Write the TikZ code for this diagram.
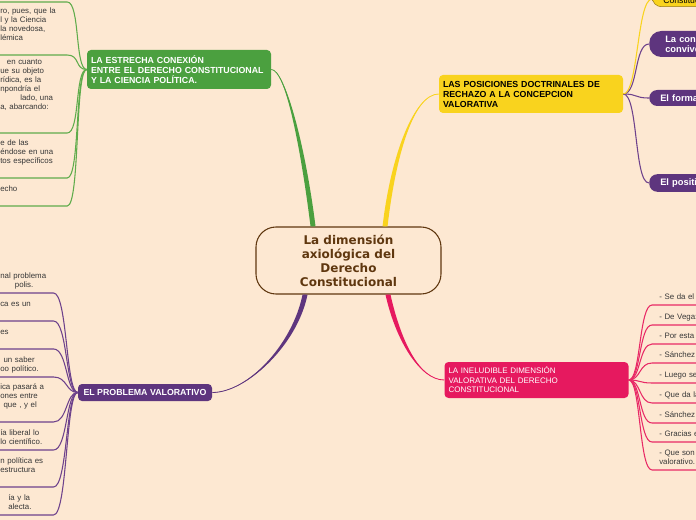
\documentclass[tikz,border=0pt]{standalone}
\usepackage{fontspec}
\usetikzlibrary{calc}
\newfontfamily\arialfont{Liberation Sans}
\newfontfamily\verdanafont{DejaVu Sans}
\definecolor{MapPeach}{RGB}{253,232,210}
\definecolor{MapBrown}{RGB}{95,55,15}
\definecolor{MapGreen}{RGB}{75,160,63}
\definecolor{MapGreenLine}{RGB}{95,172,75}
\definecolor{MapYellow}{RGB}{249,211,30}
\definecolor{MapOlive}{RGB}{150,120,20}
\definecolor{MapPurple}{RGB}{94,53,126}
\definecolor{MapPurpleLine}{RGB}{110,66,140}
\definecolor{MapPink}{RGB}{230,25,95}
\definecolor{MapPinkLine}{RGB}{232,42,102}
\definecolor{LeafGray}{RGB}{55,55,55}

\begin{document}
\begin{tikzpicture}[x=0.75pt, y=-0.75pt,
    branch/.style={rounded corners=3pt, align=left, inner xsep=3pt, inner ysep=2pt,
        font=\arialfont\bfseries\fontsize{6.6}{7.5}\selectfont},
    leaf/.style={anchor=south west, align=left, inner xsep=0pt, inner ysep=1.75pt, text=LeafGray,
        font=\arialfont\fontsize{5.9}{6.75}\selectfont, execute at end node=\strut},
    gleaf/.style={leaf, text width=50pt},
    pleaf/.style={leaf, text width=39.75pt},
    kleaf/.style={leaf, inner xsep=5.25pt, text width=60pt},
    subbox/.style={anchor=west, fill=MapPurple, text=white, rounded corners=6pt, align=left,
        text width=45pt, inner xsep=8.25pt, minimum height=12pt,
        font=\arialfont\bfseries\fontsize{7}{7.5}\selectfont},
    twig/.style={line width=0.8pt}]

    \useasboundingbox (0,0) rectangle (696,520);
    \clip (0,0) rectangle (696,520);
    \fill[MapPeach] (0,0) rectangle (696,520);

    % centre and main branches
    \node[draw=MapBrown, line width=0.8pt, rounded corners=15pt, minimum width=138.75pt, minimum height=50.25pt,
        align=center, text=MapBrown, font=\verdanafont\bfseries\fontsize{9}{10.5}\selectfont]
        (root) at (348.5,260.5) {La dimensión\\axiológica del\\Derecho\\Constitucional};
    \node[branch, fill=MapGreen, text=white, text width=132pt, minimum height=29.25pt]
        (conexion) at (179,69.5) {LA ESTRECHA CONEXIÓN\\ENTRE EL DERECHO CONSTITUCIONAL\\Y LA CIENCIA POLÍTICA.};
    \node[branch, fill=MapYellow, text=black, text width=132pt, minimum height=28.5pt]
        (rechazo) at (531,94) {LAS POSICIONES DOCTRINALES DE\\RECHAZO A LA CONCEPCION\\VALORATIVA};
    \node[branch, fill=MapPurple, text=white, align=center, minimum width=100.5pt, minimum height=12.75pt]
        (valorativo) at (145,392.5) {EL PROBLEMA VALORATIVO};
    \node[branch, fill=MapPink, text=white, text width=132pt, minimum height=27pt,
        font=\arialfont\fontsize{6}{7.1}\selectfont]
        (ineludible) at (536.5,380) {LA INELUDIBLE DIMENSIÓN\\VALORATIVA DEL DERECHO\\CONSTITUCIONAL};

    % right hand sub-topics
    \node[anchor=south west, fill=MapYellow, draw=MapOlive, rounded corners=7pt, align=left, text width=45pt,
        inner xsep=8.25pt, inner ysep=2pt, font=\arialfont\fontsize{6.5}{7.5}\selectfont]
        (constit) at (652,7) {~\\Constituc};
    \node[subbox, inner xsep=12pt, rounded corners=9pt, minimum height=19.5pt] (convive) at (649,44) {La cone\\convive};
    \node[subbox] (formal) at (649,98) {El forma};
    \node[subbox] (positivo) at (649,183) {El positiv};

    % green leaves
    \node[gleaf] (g1) at (0,2) {};
    \node[gleaf] (g2) at (0,55) {ro, pues, que la\\l y la Ciencia\\la novedosa,\\lémica\\~};
    \node[gleaf] (g3) at (0,133) {\hspace*{5pt}en cuanto\\ue su objeto\\rídica, es la\\npondría el\\\hspace*{15pt}lado, una\\a, abarcando:\\~\\~};
    \node[gleaf] (g4) at (0,178) {e de las\\éndose en una\\tos específicos\\~};
    \node[gleaf] (g5) at (0,206) {echo\\~};

    % purple leaves
    \node[pleaf] (p1) at (0,293) {nal problema\\\hspace*{11pt}polis.};
    \node[pleaf] (p2) at (0,321) {ca es un\\~};
    \node[pleaf] (p3) at (0,349) {es\\~};
    \node[pleaf] (p4) at (0,377) {\hspace*{2.5pt}un saber\\oo político.};
    \node[pleaf] (p5) at (0,422) {ica pasará a\\ones entre\\\hspace*{2.5pt}que , y el\\~};
    \node[pleaf] (p6) at (0,450) {ía liberal lo\\lo científico.};
    \node[pleaf] (p7) at (0,487) {n política es\\estructura\\~};
    \node[pleaf] (p8) at (0,515) {\hspace*{6pt}ía y la\\\hspace*{6pt}alecta.};

    % pink leaves
    \node[kleaf] (k1) at (652,305) {- Se da el};
    \node[kleaf] (k2) at (652,325) {- De Vega:};
    \node[kleaf] (k3) at (652,344) {- Por esta};
    \node[kleaf] (k4) at (652,363) {- Sánchez};
    \node[kleaf] (k5) at (652,383) {- Luego se};
    \node[kleaf] (k6) at (652,403) {- Que da la};
    \node[kleaf] (k7) at (652,423) {- Sánchez};
    \node[kleaf] (k8) at (652,442) {- Gracias e};
    \node[kleaf] (k9) at (652,470) {- Que son\\valorativo.};

    % thick tapered branches out of the centre
    \coordinate (rg) at ([xshift=-26.6pt]root.north);
    \coordinate (ry) at ([xshift=27.4pt]root.north);
    \coordinate (rp) at ([xshift=-32.6pt]root.south);
    \coordinate (rk) at ([xshift=29.6pt]root.south);
    \fill[MapGreen] ($(rg)+(-2.5,0)$) .. controls +(-10,-80) and +(14,0) .. (conexion.east)
        .. controls +(14,0) and +(-10,-80) .. ($(rg)+(2.5,0)$) -- cycle;
    \draw[MapGreen, line width=0.6pt] (rg) .. controls +(-10,-80) and +(14,0) .. (conexion.east);
    \fill[MapYellow] ($(ry)+(-2.5,0)$) .. controls +(8,-70) and +(-25,0) .. (rechazo.west)
        .. controls +(-25,0) and +(8,-70) .. ($(ry)+(2.5,0)$) -- cycle;
    \draw[MapYellow, line width=0.6pt] (ry) .. controls +(8,-70) and +(-25,0) .. (rechazo.west);
    \fill[MapPurple] ($(rp)+(-2.5,0)$) .. controls +(-10,50) and +(35,0) .. (valorativo.east)
        .. controls +(35,0) and +(-10,50) .. ($(rp)+(2.5,0)$) -- cycle;
    \draw[MapPurple, line width=0.6pt] (rp) .. controls +(-10,50) and +(35,0) .. (valorativo.east);
    \fill[MapPink] ($(rk)+(-2.5,0)$) .. controls +(10,45) and +(-25,0) .. (ineludible.west)
        .. controls +(-25,0) and +(10,45) .. ($(rk)+(2.5,0)$) -- cycle;
    \draw[MapPink, line width=0.6pt] (rk) .. controls +(10,45) and +(-25,0) .. (ineludible.west);

    % leaf connectors
    \foreach \leaf in {g1,g2,g3,g4,g5}
        \draw[MapGreenLine, twig] (\leaf.south west) -- (\leaf.south east)
            .. controls +(13,0) and +(-12,0) .. (conexion.west);
    \foreach \leaf in {p1,p2,p3,p4,p5,p6,p7,p8}
        \draw[MapPurpleLine, twig] (\leaf.south west) -- (\leaf.south east)
            .. controls +(14,0) and +(-12,0) .. (valorativo.west);
    \foreach \leaf in {k1,k2,k3,k4,k5,k6,k7,k8,k9}
        \draw[MapPinkLine, twig] (ineludible.east) .. controls +(12,0) and +(-13,0) .. (\leaf.south west)
            -- (\leaf.south east);
    \foreach \sub in {convive,formal,positivo}
        \draw[MapPurpleLine, twig] (rechazo.east) .. controls +(15,0) and +(-15,0) .. (\sub.west);
    \draw[MapYellow, twig] (rechazo.east) .. controls +(15,0) and +(-15,0) .. (constit.west);
\end{tikzpicture}
\end{document}
